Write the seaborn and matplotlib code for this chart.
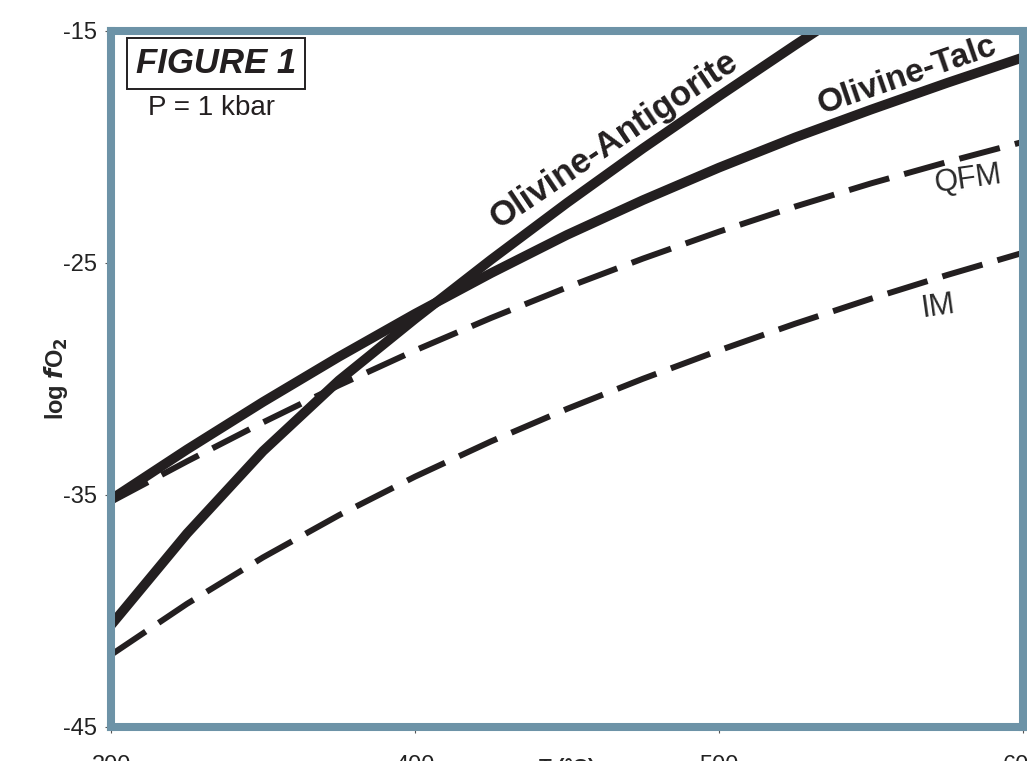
import numpy as np
import pandas as pd
import seaborn as sns
import matplotlib.pyplot as plt

# Temperatur (°C) und log fO2 Werte
temp = [300, 325, 350, 375, 400, 425, 450, 475, 500, 525, 550, 575, 600]
ol_talc = [-35.19, -33.04, -30.99, -29.04, -27.19, -25.44, -23.79, -22.29,
           -20.89, -19.59, -18.39, -17.24, -16.14]
qfm = [-35.29, -33.55, -31.87, -30.27, -28.77, -27.37, -26.05, -24.81,
       -23.65, -22.57, -21.57, -20.65, -19.78]
im = [-41.89, -39.69, -37.69, -35.87, -34.21, -32.69, -31.29, -29.99,
      -28.77, -27.62, -26.54, -25.52, -24.56]
# Antigorit-Kurve endet oben am Rahmen
temp_atg = [300, 325, 350, 375, 400, 425, 450, 475, 500, 525, 550]
ol_atg = [-40.61, -36.66, -33.11, -30.06, -27.41, -24.86, -22.41, -20.06,
          -17.81, -15.61, -13.46]

x_ticks = [300, 400, 500, 600]
y_ticks = [-45, -35, -25, -15]

sns.set_theme(style='white')
plt.rcParams['font.family'] = ['Liberation Sans', 'DejaVu Sans']
plt.rcParams['axes.unicode_minus'] = False

schwarz = '#231f20'
rahmen = '#6d93a7'

fig = plt.figure(figsize=(10.27, 7.61), dpi=100)
ax = fig.add_axes([0.1081, 0.0447, 0.888, 0.9146])

df_talc = pd.DataFrame({'T': temp, 'fo2': ol_talc})
df_atg = pd.DataFrame({'T': temp_atg, 'fo2': ol_atg})
df_qfm = pd.DataFrame({'T': temp, 'fo2': qfm})
df_im = pd.DataFrame({'T': temp, 'fo2': im})

# gestrichelte Puffer-Kurven
for d in [df_qfm, df_im]:
    sns.lineplot(data=d, x='T', y='fo2', ax=ax, color=schwarz, linewidth=4.3,
                 linestyle=(0, (7, 2.6)), dash_capstyle='butt')
# Reaktionskurven
for d in [df_talc, df_atg]:
    sns.lineplot(data=d, x='T', y='fo2', ax=ax, color=schwarz, linewidth=7,
                 solid_joinstyle='round')

ax.set_xlim(300, 600)
ax.set_ylim(-45, -15)
ax.set_xticks(x_ticks)
ax.set_yticks(y_ticks)
ax.set_xticklabels([str(v) for v in x_ticks], fontsize=17, color='#222222')
ax.set_yticklabels([str(v) for v in y_ticks], fontsize=17, color='#222222')
ax.tick_params(axis='both', which='both', direction='out', length=4, width=0.8,
               color='#555555', left=True, bottom=True)
ax.tick_params(axis='x', pad=16)
ax.tick_params(axis='y', pad=6)

for s in ax.spines.values():
    s.set_color(rahmen)
    s.set_linewidth(5.8)
    s.set_visible(True)

ax.set_xlabel('T (°C)', fontsize=15, fontweight='bold')
ax.xaxis.set_label_coords(0.5, -0.045)
ax.xaxis.label.set_va('top')
ax.set_ylabel(r'log $\mathbfit{f}$O$_\mathbf{2}$', fontsize=17, fontweight='bold')
ax.yaxis.set_label_coords(-0.045, 0.5)

ax.text(334.5, -16.4, 'FIGURE 1', fontsize=25, fontweight='bold', style='italic',
        ha='center', va='center', color=schwarz,
        bbox=dict(boxstyle='square,pad=0.25', fc='white', ec=schwarz, lw=1.4))
ax.text(333.2, -18.3, 'P = 1 kbar', fontsize=20, ha='center', va='center',
        color=schwarz)

ax.text(465.5, -19.7, 'Olivine-Antigorite', fontsize=25, fontweight='bold',
        rotation=34, rotation_mode='anchor', ha='center', va='center', color=schwarz)
ax.text(562.0, -16.9, 'Olivine-Talc', fontsize=24, fontweight='bold',
        rotation=19, rotation_mode='anchor', ha='center', va='center', color=schwarz)
ax.text(581.9, -21.42, 'QFM', fontsize=22, fontweight='light', rotation=8,
        rotation_mode='anchor', ha='center', va='center', color='#2a2a2a')
ax.text(572.0, -26.9, 'IM', fontsize=22, fontweight='light', rotation=8,
        rotation_mode='anchor', ha='center', va='center', color='#2a2a2a')

fig.savefig('out.png', dpi=100)
